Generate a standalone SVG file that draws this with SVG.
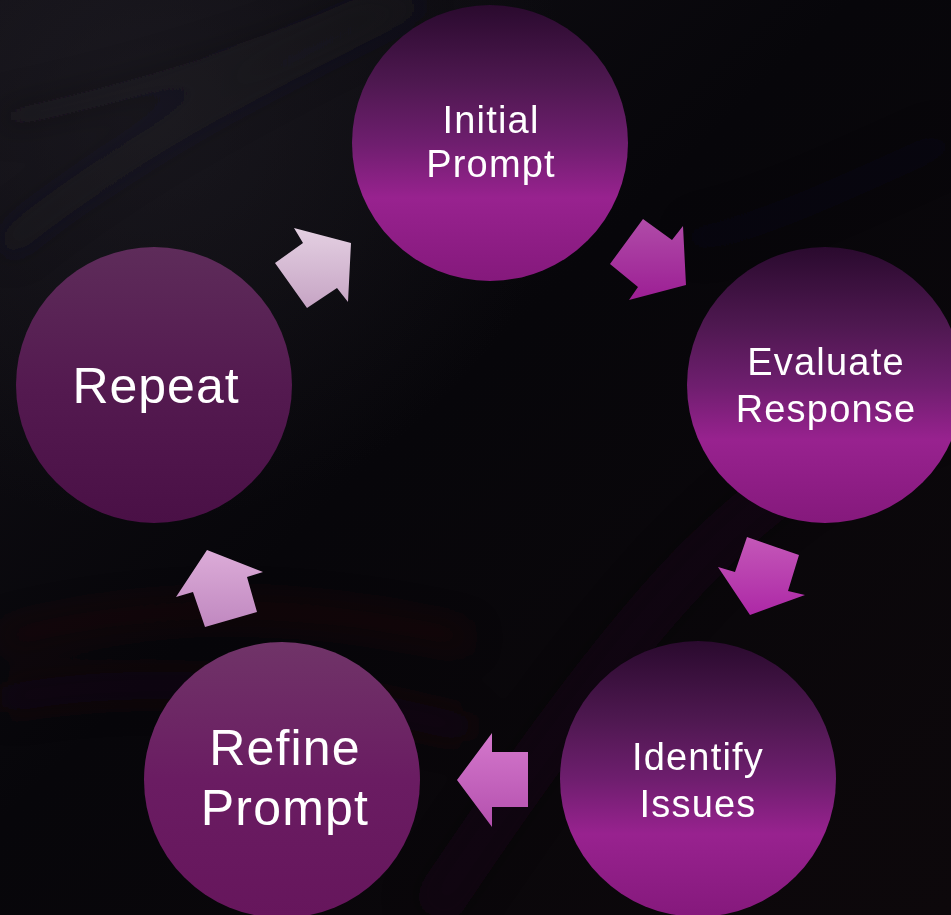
<svg xmlns="http://www.w3.org/2000/svg" width="951" height="915" viewBox="0 0 951 915">
  <defs>
    <linearGradient id="bgGrad" x1="0" y1="0" x2="1" y2="1">
      <stop offset="0" stop-color="#121016"/>
      <stop offset="0.45" stop-color="#07060a"/>
      <stop offset="1" stop-color="#0d080b"/>
    </linearGradient>
    <radialGradient id="glowTL" cx="0.15" cy="0.12" r="0.45">
      <stop offset="0" stop-color="#26242c" stop-opacity="0.45"/>
      <stop offset="1" stop-color="#26242c" stop-opacity="0"/>
    </radialGradient>
    <linearGradient id="brightGrad" x1="0" y1="0" x2="0" y2="1">
      <stop offset="0" stop-color="#2a0a2e"/>
      <stop offset="0.28" stop-color="#4e1850"/>
      <stop offset="0.5" stop-color="#6e1e6e"/>
      <stop offset="0.7" stop-color="#98228f"/>
      <stop offset="1" stop-color="#85197c"/>
    </linearGradient>
    <linearGradient id="repeatGrad" x1="0" y1="0" x2="0" y2="1">
      <stop offset="0" stop-color="#5e2c5a"/>
      <stop offset="0.5" stop-color="#541a50"/>
      <stop offset="1" stop-color="#4a1046"/>
    </linearGradient>
    <linearGradient id="refineGrad" x1="0" y1="0" x2="0" y2="1">
      <stop offset="0" stop-color="#703468"/>
      <stop offset="0.5" stop-color="#6a1c62"/>
      <stop offset="1" stop-color="#66165c"/>
    </linearGradient>
    <linearGradient id="a1" x1="0" y1="0" x2="0" y2="1">
      <stop offset="0" stop-color="#e4d0e2"/>
      <stop offset="1" stop-color="#c6a4c4"/>
    </linearGradient>
    <linearGradient id="a2" x1="0" y1="0" x2="0" y2="1">
      <stop offset="0" stop-color="#b04ca8"/>
      <stop offset="1" stop-color="#9c1e94"/>
    </linearGradient>
    <linearGradient id="a3" x1="0" y1="0" x2="0" y2="1">
      <stop offset="0" stop-color="#c458b8"/>
      <stop offset="1" stop-color="#ad28a6"/>
    </linearGradient>
    <linearGradient id="a4" x1="0" y1="0" x2="0" y2="1">
      <stop offset="0" stop-color="#d478cc"/>
      <stop offset="1" stop-color="#b450ae"/>
    </linearGradient>
    <linearGradient id="a5" x1="0" y1="0" x2="0" y2="1">
      <stop offset="0" stop-color="#dcacd8"/>
      <stop offset="1" stop-color="#c088c0"/>
    </linearGradient>
    <filter id="blur" x="-20%" y="-20%" width="140%" height="140%">
      <feGaussianBlur stdDeviation="16"/>
    </filter>
    <style>
      .lbl { font-family: "Liberation Sans", Arial, sans-serif; fill: #ffffff; text-anchor: middle; }
      .sm { font-size: 38px; letter-spacing: 1.2px; }
      .lg { font-size: 50px; letter-spacing: 1.2px; }
    </style>
  </defs>

  <!-- background -->
  <rect width="951" height="915" fill="url(#bgGrad)"/>
  <rect width="951" height="915" fill="url(#glowTL)"/>
  <g fill="none" filter="url(#blur)">
    <path d="M0,250 C120,150 260,80 420,0" stroke="#24222a" stroke-width="28" opacity="0.25"/>
    <path d="M0,120 C150,90 300,40 380,0" stroke="#1e1c24" stroke-width="24" opacity="0.25"/>
    <path d="M0,640 C150,600 300,600 470,640" stroke="#3a0c1c" stroke-width="18" opacity="0.35"/>
    <path d="M0,700 C150,670 320,690 470,730" stroke="#2a0a16" stroke-width="30" opacity="0.3"/>
    <path d="M430,915 C520,780 620,640 700,560 C780,480 860,430 951,400" stroke="#22101a" stroke-width="50" opacity="0.3"/>
    <path d="M951,140 C860,180 760,230 690,240" stroke="#1a161c" stroke-width="28" opacity="0.2"/>
  </g>

  <!-- connectors -->
  <g id="connectors">
    <polygon fill="url(#a1)" points="351,243 348,302 337,288 307,308 275,263 303,243 294,228"/>
    <polygon fill="url(#a2)" points="686,285 629,300 638,287 610,264 643,219 672,240 683,226"/>
    <polygon fill="url(#a3)" points="750,615 718,567 735,572 747,537 799,555 788,591 805,595"/>
    <polygon fill="url(#a4)" points="457,780 492,733 492,752 528,752 528,807 492,807 492,827"/>
    <polygon fill="url(#a5)" points="207,550 263,572 247,577 257,612 205,627 193,592 176,597"/>
  </g>

  <!-- nodes -->
  <g id="initial-prompt">
    <circle cx="490" cy="143" r="138" fill="url(#brightGrad)"/>
    <text class="lbl sm" x="491" y="133">Initial</text>
    <text class="lbl sm" x="491" y="177">Prompt</text>
  </g>
  <g id="evaluate-response">
    <circle cx="825" cy="385" r="138" fill="url(#brightGrad)"/>
    <text class="lbl sm" x="826" y="375">Evaluate</text>
    <text class="lbl sm" x="826" y="422">Response</text>
  </g>
  <g id="identify-issues">
    <circle cx="698" cy="779" r="138" fill="url(#brightGrad)"/>
    <text class="lbl sm" x="698" y="770">Identify</text>
    <text class="lbl sm" x="698" y="817">Issues</text>
  </g>
  <g id="refine-prompt">
    <circle cx="282" cy="780" r="138" fill="url(#refineGrad)"/>
    <text class="lbl lg" x="285" y="765">Refine</text>
    <text class="lbl lg" x="285" y="825">Prompt</text>
  </g>
  <g id="repeat">
    <circle cx="154" cy="385" r="138" fill="url(#repeatGrad)"/>
    <text class="lbl lg" x="156" y="403" style="letter-spacing:1px">Repeat</text>
  </g>
</svg>
